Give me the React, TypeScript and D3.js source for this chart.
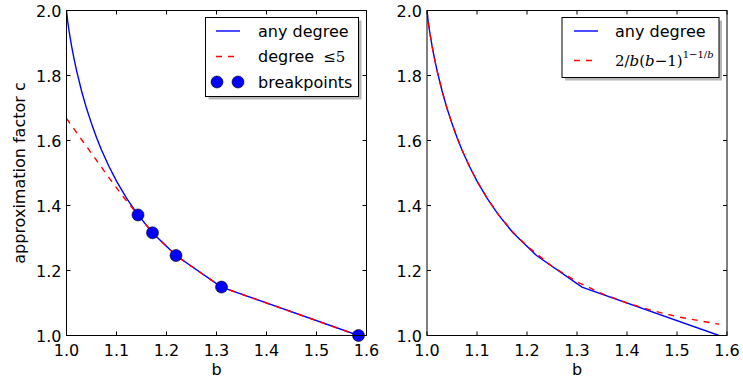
import * as d3 from "d3";

// any degree (both panels)
const anyB = [1.0, 1.0025, 1.005, 1.01, 1.015, 1.02, 1.03, 1.04, 1.05, 1.06, 1.07, 1.085, 1.1, 1.12, 1.143, 1.172, 1.219, 1.31, 1.584];
const anyC = [2.0, 1.965, 1.938, 1.892, 1.852, 1.816, 1.753, 1.699, 1.652, 1.609, 1.571, 1.52, 1.475, 1.423, 1.371, 1.316, 1.246, 1.149, 1.0];

// degree <= 5 (left panel)
const deg5B = [1.0, 1.03, 1.054, 1.087, 1.115, 1.143, 1.172, 1.219, 1.31, 1.584];
const deg5C = [1.668, 1.603, 1.552, 1.481, 1.424, 1.371, 1.316, 1.246, 1.149, 1.0];

// breakpoints
const breakB = [1.143, 1.172, 1.219, 1.31, 1.584];
const breakC = [1.371, 1.316, 1.246, 1.149, 1.0];

// 2/b(b-1)^(1-1/b) (right panel)
const boundB = [1.0, 1.0025, 1.005, 1.01, 1.015, 1.02, 1.03, 1.04, 1.05, 1.06, 1.07, 1.085, 1.1, 1.12, 1.143, 1.172, 1.2, 1.25, 1.3, 1.35, 1.4, 1.45, 1.5, 1.55, 1.584];
const boundC = [2.0, 1.965, 1.938, 1.892, 1.852, 1.816, 1.753, 1.699, 1.652, 1.609, 1.571, 1.52, 1.475, 1.423, 1.372, 1.318, 1.275, 1.213, 1.165, 1.129, 1.1, 1.077, 1.058, 1.044, 1.035];

const xTicks = [1.0, 1.1, 1.2, 1.3, 1.4, 1.5, 1.6];
const yTicks = [1.0, 1.2, 1.4, 1.6, 1.8, 2.0];

const W = 743, H = 381;
const top = 10.5, bottom = 335.5;
const font = "DejaVu Sans, sans-serif";
const mathFont = "DejaVu Serif, serif";

const zip = (b, c) => b.map((v, i) => [v, c[i]]);

function Panel({ left, children, lines, points, legend }) {
    let x = d3.scaleLinear().domain([1, 1.6]).range([left, left + 300]),
        y = d3.scaleLinear().domain([1, 2]).range([bottom, top]);
    let line = d3.line().x(d => x(d[0])).y(d => y(d[1]));
    return (
        <g>
            <defs>
                <clipPath id={"clip" + left}>
                    <rect x={left} y={top} width={300} height={bottom - top} />
                </clipPath>
            </defs>
            <g clipPath={`url(#clip${left})`}>
                {lines.map((l, i) => (
                    <path key={i} d={line(l.data)} fill="none" stroke={l.color}
                        strokeWidth={1.4} strokeDasharray={l.dash ? "6,6" : null} />
                ))}
            </g>
            {points && points.map((p, i) => (
                <circle key={i} cx={x(p[0])} cy={y(p[1])} r={6} fill="#0000ff" stroke="#000" strokeWidth={0.6} />
            ))}
            <rect x={left} y={top} width={300} height={bottom - top} fill="none" stroke="#000" strokeWidth={1} />
            {xTicks.map(t => (
                <g key={t}>
                    <line x1={x(t)} x2={x(t)} y1={bottom} y2={bottom - 4} stroke="#000" />
                    <line x1={x(t)} x2={x(t)} y1={top} y2={top + 4} stroke="#000" />
                    <text x={x(t)} y={bottom + 20} textAnchor="middle" fontFamily={font} fontSize={16}>{t.toFixed(1)}</text>
                </g>
            ))}
            {yTicks.map(t => (
                <g key={t}>
                    <line x1={left} x2={left + 4} y1={y(t)} y2={y(t)} stroke="#000" />
                    <line x1={left + 300} x2={left + 296} y1={y(t)} y2={y(t)} stroke="#000" />
                    <text x={left - 5} y={y(t) + 6} textAnchor="end" fontFamily={font} fontSize={16}>{t.toFixed(1)}</text>
                </g>
            ))}
            <text x={left + 150} y={375} textAnchor="middle" fontFamily={font} fontSize={16}>b</text>
            {legend}
            {children}
        </g>
    );
}

function LegendBox({ x0, y0, w, h, children }) {
    return (
        <g>
            <rect x={x0 + 3} y={y0 + 3} width={w} height={h} fill="#888" opacity={0.6} />
            <rect x={x0} y={y0} width={w} height={h} fill="#fff" stroke="#000" strokeWidth={1} />
            {children}
        </g>
    );
}

export default function App() {
    let leftLegend = (
        <LegendBox x0={205.5} y0={17.5} w={153} h={79}>
            <line x1={216} x2={240} y1={31} y2={31} stroke="#0000ff" strokeWidth={1.4} />
            <text x={258} y={37} fontFamily={font} fontSize={16}>any degree</text>
            <line x1={216} x2={240} y1={56.5} y2={56.5} stroke="#ff0000" strokeWidth={1.4} strokeDasharray="6,6" />
            <text x={258} y={62} fontFamily={font} fontSize={16}>degree <tspan fontFamily={mathFont} fontSize={15} dx={4}>≤5</tspan></text>
            <circle cx={217} cy={82} r={6} fill="#0000ff" stroke="#000" strokeWidth={0.6} />
            <circle cx={238} cy={82} r={6} fill="#0000ff" stroke="#000" strokeWidth={0.6} />
            <text x={258} y={88} fontFamily={font} fontSize={16}>breakpoints</text>
        </LegendBox>
    );
    let rightLegend = (
        <LegendBox x0={562} y0={17.5} w={157} h={60}>
            <line x1={574} x2={598} y1={31} y2={31} stroke="#0000ff" strokeWidth={1.4} />
            <text x={615} y={37} fontFamily={font} fontSize={16}>any degree</text>
            <line x1={574} x2={598} y1={60.5} y2={60.5} stroke="#ff0000" strokeWidth={1.4} strokeDasharray="6,6" />
            <text x={615} y={66} fontFamily={mathFont} fontSize={15}>
                2/<tspan fontStyle="italic">b</tspan>(<tspan fontStyle="italic">b</tspan>−1)
                <tspan fontSize={10} dy={-8}>1−1/<tspan fontStyle="italic">b</tspan></tspan>
            </text>
        </LegendBox>
    );
    return (
        <svg width={W} height={H} style={{ position: "absolute", left: 0, top: 0, background: "#fff" }}>
            <Panel left={66.5}
                lines={[
                    { data: zip(anyB, anyC), color: "#0000ff" },
                    { data: zip(deg5B, deg5C), color: "#ff0000", dash: true },
                ]}
                points={zip(breakB, breakC)}
                legend={leftLegend} />
            <Panel left={427}
                lines={[
                    { data: zip(anyB, anyC), color: "#0000ff" },
                    { data: zip(boundB, boundC), color: "#ff0000", dash: true },
                ]}
                legend={rightLegend} />
            <text transform="translate(25,173) rotate(-90)" textAnchor="middle" fontFamily={font} fontSize={16}>approximation factor c</text>
        </svg>
    );
}
